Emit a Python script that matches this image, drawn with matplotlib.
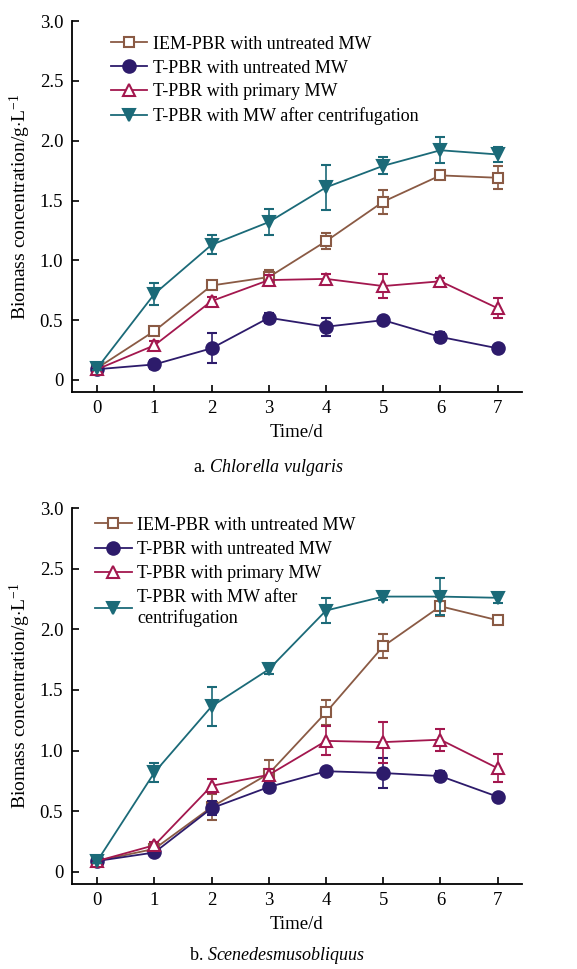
import numpy as np
import matplotlib
matplotlib.use('Agg')
import matplotlib.pyplot as plt
from matplotlib.lines import Line2D

plt.rcParams['font.family'] = ['Liberation Serif', 'DejaVu Serif']
plt.rcParams['mathtext.fontset'] = 'custom'
plt.rcParams['mathtext.rm'] = 'Liberation Serif'
plt.rcParams['mathtext.it'] = 'Liberation Serif:italic'

days = [0, 1, 2, 3, 4, 5, 6, 7]
labels = ['IEM-PBR with untreated MW', 'T-PBR with untreated MW',
          'T-PBR with primary MW', 'T-PBR with MW after centrifugation']

# a. Chlorella vulgaris
cv_iem = [0.10, 0.41, 0.79, 0.86, 1.16, 1.49, 1.71, 1.69]
cv_iem_err = [0.02, 0.02, 0.02, 0.06, 0.065, 0.10, 0.03, 0.095]
cv_untreated = [0.09, 0.13, 0.265, 0.52, 0.445, 0.50, 0.36, 0.265]
cv_untreated_err = [0.02, 0.04, 0.125, 0.04, 0.075, 0.02, 0.04, 0.02]
cv_primary = [0.09, 0.29, 0.66, 0.835, 0.845, 0.785, 0.825, 0.60]
cv_primary_err = [0.02, 0.04, 0.03, 0.04, 0.04, 0.10, 0.03, 0.085]
cv_centri = [0.10, 0.72, 1.13, 1.32, 1.61, 1.79, 1.92, 1.885]
cv_centri_err = [0.02, 0.09, 0.08, 0.105, 0.19, 0.07, 0.11, 0.06]

# b. Scenedesmus obliquus
so_iem = [0.09, 0.19, 0.535, 0.81, 1.315, 1.86, 2.19, 2.075]
so_iem_err = [0.02, 0.03, 0.11, 0.115, 0.10, 0.10, 0.08, 0.03]
so_untreated = [0.09, 0.16, 0.525, 0.70, 0.83, 0.815, 0.79, 0.62]
so_untreated_err = [0.02, 0.02, 0.06, 0.04, 0.02, 0.12, 0.04, 0.02]
so_primary = [0.09, 0.22, 0.71, 0.80, 1.08, 1.07, 1.09, 0.855]
so_primary_err = [0.02, 0.03, 0.06, 0.05, 0.12, 0.17, 0.09, 0.115]
so_centri = [0.09, 0.82, 1.365, 1.67, 2.155, 2.27, 2.27, 2.26]
so_centri_err = [0.02, 0.08, 0.16, 0.04, 0.10, 0.03, 0.15, 0.04]

colors = ['#8a5a44', '#2d1b6b', '#a3174e', '#1b6a78']
markers = ['s', 'o', '^', 'v']
mfaces = ['white', colors[1], 'white', colors[3]]
msizes = [7.5, 9, 9, 9]


def draw_panel(ax, series, errs, legend_labels, legend_pos, spacing):
    handles = []
    for i, (y, e) in enumerate(zip(series, errs)):
        style = dict(color=colors[i], marker=markers[i],
                     markerfacecolor=mfaces[i], markeredgecolor=colors[i],
                     markeredgewidth=1.5, markersize=msizes[i], lw=1.3)
        ax.errorbar(days, y, yerr=e, elinewidth=1.2, capsize=3.5,
                    capthick=1.2, zorder=3 + i, **style)
        handles.append(Line2D([], [], label=legend_labels[i], **style))
    ax.set_xlim(-0.45, 7.43)
    ax.set_ylim(-0.1, 3.0)
    ax.set_xticks(days)
    ax.set_yticks([0, 0.5, 1.0, 1.5, 2.0, 2.5, 3.0])
    ax.set_yticklabels(['0', '0.5', '1.0', '1.5', '2.0', '2.5', '3.0'])
    ax.spines['top'].set_visible(False)
    ax.spines['right'].set_visible(False)
    ax.spines['left'].set_linewidth(1.3)
    ax.spines['bottom'].set_linewidth(1.3)
    ax.tick_params(direction='in', length=5, width=1.2, labelsize=13.5, pad=6)
    ax.set_xlabel('Time/d', fontsize=13.5, labelpad=5)
    ax.set_ylabel('Biomass concentration/g$\\cdot$L$^{-1}$', fontsize=14,
                  labelpad=5)
    ax.legend(handles=handles, loc='upper left', bbox_to_anchor=legend_pos,
              frameon=False, fontsize=13, handlelength=2.0,
              handletextpad=0.3, labelspacing=spacing, borderaxespad=0)


fig = plt.figure(figsize=(5.77, 9.69), dpi=100)
ax1 = fig.add_axes([0.124, 0.5955, 0.781, 0.3828])
ax2 = fig.add_axes([0.124, 0.0877, 0.781, 0.3880])

draw_panel(ax1, [cv_iem, cv_untreated, cv_primary, cv_centri],
           [cv_iem_err, cv_untreated_err, cv_primary_err, cv_centri_err],
           labels, (0.072, 0.98), 0.38)
draw_panel(ax2, [so_iem, so_untreated, so_primary, so_centri],
           [so_iem_err, so_untreated_err, so_primary_err, so_centri_err],
           labels[:3] + ['T-PBR with MW after\ncentrifugation'],
           (0.037, 0.996), 0.40)

fig.text(0.465, 1 - 467 / 969, 'a. $\\it{Chlorella\\ vulgaris}$',
         ha='center', va='center', fontsize=13)
fig.text(0.48, 1 - 955 / 969, 'b. $\\it{Scenedesmusobliquus}$',
         ha='center', va='center', fontsize=13)

fig.savefig('out.png', dpi=100)
